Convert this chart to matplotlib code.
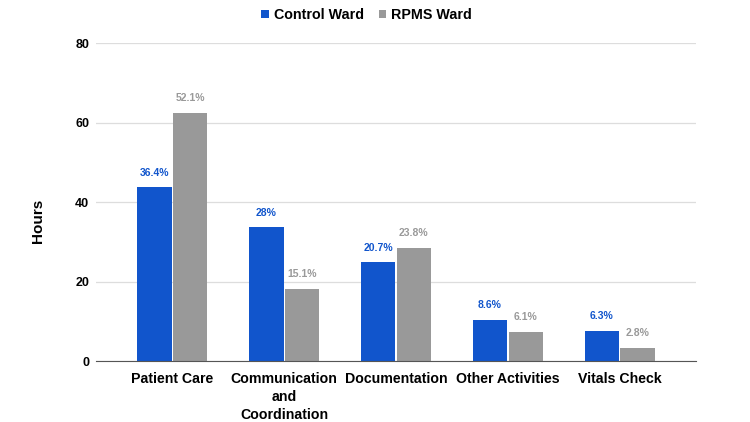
import matplotlib.pyplot as plt
import numpy as np

plt.rcParams['font.family'] = ['Liberation Sans', 'DejaVu Sans']

categories = ['Patient Care', 'Communication\nand\nCoordination', 'Documentation', 'Other Activities', 'Vitals Check']
control = [43.7, 33.6, 24.8, 10.3, 7.6]
rpms = [62.5, 18.1, 28.5, 7.3, 3.4]
control_pct = ['36.4%', '28%', '20.7%', '8.6%', '6.3%']
rpms_pct = ['52.1%', '15.1%', '23.8%', '6.1%', '2.8%']
yticks = [0, 20, 40, 60, 80]

blue = '#1155cc'
gray = '#999999'

fig = plt.figure(figsize=(7.5, 4.22), dpi=100)
ax = fig.add_axes([0.128, 0.1445, 0.8, 0.7535])

x = np.arange(len(categories))
w = 0.31
b1 = ax.bar(x - w / 2 - 0.005, control, w, color=blue, label='Control Ward', zorder=3)
b2 = ax.bar(x + w / 2 + 0.005, rpms, w, color=gray, label='RPMS Ward', zorder=3)

for rect, t in zip(b1, control_pct):
    ax.annotate(t, (rect.get_x() + rect.get_width() / 2, rect.get_height()),
                xytext=(0, 7), textcoords='offset points', ha='center', va='bottom',
                color=blue, fontsize=7.5, fontweight='bold')
for rect, t in zip(b2, rpms_pct):
    ax.annotate(t, (rect.get_x() + rect.get_width() / 2, rect.get_height()),
                xytext=(0, 7), textcoords='offset points', ha='center', va='bottom',
                color=gray, fontsize=7.5, fontweight='bold')

ax.set_ylim(0, 80)
ax.set_xlim(-0.68, 4.68)
ax.set_yticks(yticks)
ax.set_yticklabels([str(v) for v in yticks], fontsize=9, fontweight='bold')
ax.set_xticks(x)
ax.set_xticklabels(categories, fontsize=10.2, fontweight='bold', va='top', linespacing=1.35)
ax.tick_params(axis='x', length=0, pad=8)
ax.tick_params(axis='y', length=0, pad=5)
ax.grid(axis='y', color='#dddddd', linewidth=0.9, zorder=0)
for s in ['top', 'right', 'left']:
    ax.spines[s].set_visible(False)
ax.spines['bottom'].set_color('#555555')
ax.spines['bottom'].set_zorder(4)
ax.set_ylabel('Hours', fontsize=11, fontweight='bold')
ax.yaxis.set_label_coords(-0.085, 0.44)

leg = fig.legend(loc='upper center', bbox_to_anchor=(0.489, 1.012), ncol=2, frameon=False,
                 fontsize=10.3, handlelength=0.5, handleheight=0.5, columnspacing=1.0,
                 handletextpad=0.4)
for t in leg.get_texts():
    t.set_fontweight('bold')

fig.savefig('out.png', dpi=100)
